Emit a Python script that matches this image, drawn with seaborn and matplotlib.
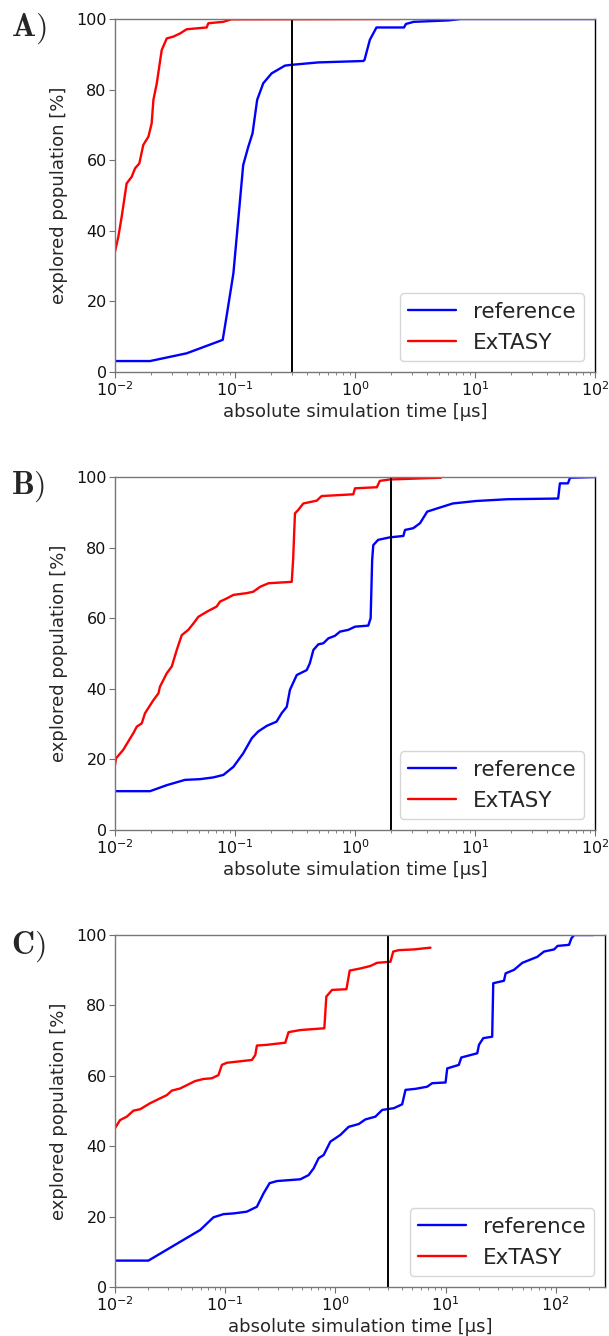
import numpy as np
import pandas as pd
import matplotlib
matplotlib.use('Agg')
import matplotlib.pyplot as plt
import seaborn as sns

# ---- panel A: cutoff at 0.3 us ----
a_ref_t = [0.01, 0.0196, 0.0396, 0.079, 0.085, 0.097, 0.107, 0.117, 0.129, 0.140,
           0.153, 0.172, 0.202, 0.261, 0.293, 0.494, 1.17, 1.20, 1.33, 1.51,
           2.56, 2.66, 3.09, 6.0, 7.6, 100]
a_ref_v = [3.1, 3.1, 5.3, 9.1, 15.7, 28.0, 44.0, 58.6, 63.8, 67.6,
           77.1, 81.8, 84.6, 86.8, 87.0, 87.7, 88.1, 88.4, 94.1, 97.6,
           97.6, 98.6, 99.2, 99.6, 100, 100]
a_ext_t = [0.01, 0.01066, 0.01137, 0.0125, 0.01377, 0.0147, 0.01595, 0.0172, 0.019, 0.0202,
           0.0209, 0.0223, 0.0245, 0.027, 0.0306, 0.0348, 0.0396, 0.058, 0.060, 0.080,
           0.093, 2.37]
a_ext_v = [34.1, 38.3, 44.0, 53.4, 55.3, 57.7, 59.1, 64.3, 66.7, 70.4,
           77.1, 81.8, 91.2, 94.5, 95.0, 95.9, 97.1, 97.6, 98.8, 99.2,
           99.9, 100]

# ---- panel B: cutoff at 2 us ----
b_ref_t = [0.01, 0.0196, 0.027, 0.0383, 0.051, 0.066, 0.08, 0.097, 0.117, 0.138,
           0.156, 0.184, 0.222, 0.245, 0.27, 0.287, 0.327, 0.396, 0.42, 0.45,
           0.495, 0.545, 0.6, 0.68, 0.75, 0.88, 1.0, 1.29, 1.35, 1.39,
           1.42, 1.56, 1.95, 2.53, 2.61, 3.06, 3.48, 4.0, 4.84, 6.53,
           10.2, 18.6, 49.3, 51, 59.5, 62, 100]
b_ref_v = [11.0, 11.0, 12.7, 14.2, 14.4, 14.9, 15.6, 17.9, 21.7, 26.0,
           27.9, 29.5, 30.7, 33.1, 34.9, 39.7, 43.9, 45.3, 47.2, 51.0,
           52.6, 52.9, 54.3, 55.0, 56.2, 56.7, 57.6, 57.9, 60.0, 76.5,
           80.7, 82.2, 82.9, 83.3, 85.0, 85.5, 86.9, 90.2, 91.1, 92.5,
           93.2, 93.7, 93.9, 98.2, 98.2, 99.8, 100]
b_ext_t = [0.01, 0.0102, 0.0117, 0.0142, 0.0152, 0.0167, 0.0178, 0.0209, 0.023, 0.0237,
           0.027, 0.0297, 0.0327, 0.036, 0.0408, 0.045, 0.0495, 0.058, 0.0703, 0.075,
           0.0853, 0.097, 0.125, 0.142, 0.162, 0.19, 0.297, 0.305, 0.316, 0.337,
           0.371, 0.48, 0.527, 0.968, 1.0, 1.52, 1.61, 1.95, 5.2]
b_ext_v = [18.4, 20.3, 22.7, 27.4, 29.3, 30.2, 33.1, 36.8, 38.7, 40.6,
           44.4, 46.3, 51.0, 55.2, 56.7, 58.5, 60.4, 61.8, 63.3, 64.7,
           65.6, 66.6, 67.1, 67.5, 68.9, 69.9, 70.3, 76.5, 89.7, 90.7,
           92.5, 93.3, 94.6, 95.1, 96.8, 97.1, 98.9, 99.3, 99.8]

# ---- panel C: cutoff at 3 us ----
c_ref_t = [0.01, 0.0201, 0.0593, 0.0783, 0.0966, 0.119, 0.157, 0.194, 0.223, 0.253,
           0.295, 0.481, 0.572, 0.635, 0.705, 0.783, 0.901, 1.11, 1.32, 1.63,
           1.87, 2.31, 2.66, 3.39, 4.04, 4.33, 5.34, 6.81, 7.56, 10.0,
           10.36, 13.2, 13.9, 19.4, 20.1, 22.0, 26.5, 27.1, 33.9, 35.1,
           41.8, 49.8, 68.1, 78.3, 96.6, 104, 132, 139, 147, 220]
c_ref_v = [7.5, 7.5, 16.2, 19.8, 20.7, 20.9, 21.4, 22.8, 26.6, 29.5,
           30.1, 30.6, 31.8, 33.7, 36.6, 37.5, 41.3, 43.2, 45.5, 46.3,
           47.6, 48.4, 50.3, 50.8, 51.9, 56.0, 56.3, 56.9, 57.9, 58.1,
           62.1, 63.1, 65.2, 66.4, 68.8, 70.7, 71.1, 86.3, 87.0, 89.1,
           90.1, 92.1, 93.8, 95.3, 95.9, 96.9, 97.2, 99.1, 100, 100]
c_ext_t = [0.01, 0.0111, 0.0128, 0.0147, 0.0169, 0.0208, 0.0257, 0.0295, 0.0328, 0.039,
           0.0533, 0.0635, 0.0757, 0.0869, 0.0933, 0.1036, 0.175, 0.1875, 0.194, 0.239,
           0.351, 0.376, 0.481, 0.794, 0.828, 0.933, 1.26, 1.35, 1.69, 2.08,
           2.39, 3.16, 3.35, 3.77, 5.16, 7.3]
c_ext_v = [45.1, 47.4, 48.4, 50.1, 50.5, 52.2, 53.6, 54.5, 55.8, 56.4,
           58.5, 59.1, 59.3, 60.2, 63.1, 63.7, 64.5, 65.9, 68.6, 68.8,
           69.4, 72.4, 73.0, 73.5, 82.5, 84.4, 84.6, 89.9, 90.5, 91.2,
           92.1, 92.4, 95.3, 95.7, 95.9, 96.4]

panel_labels = ['A)', 'B)', 'C)']
cutoffs = [0.3, 2.0, 3.0]
xmax = [100, 100, 280]
yticks = [0, 20, 40, 60, 80, 100]

sns.set_style('ticks')
plt.rcParams['font.family'] = ['DejaVu Sans']

W, H = 609, 1336
fig = plt.figure(figsize=(W / 100, H / 100), dpi=100)

# axes boxes in pixels: left, top, right, bottom
boxes = [(115, 19, 595, 372), (115, 477, 595, 830), (115, 935, 605, 1287)]
label_y = [29, 487, 947]

data = [(a_ref_t, a_ref_v, a_ext_t, a_ext_v),
        (b_ref_t, b_ref_v, b_ext_t, b_ext_v),
        (c_ref_t, c_ref_v, c_ext_t, c_ext_v)]

for i, (ref_t, ref_v, ext_t, ext_v) in enumerate(data):
    l, t, r, b = boxes[i]
    ax = fig.add_axes([l / W, 1 - b / H, (r - l) / W, (b - t) / H])
    ax.set_xscale('log')

    ref = pd.DataFrame({'t': ref_t, 'v': ref_v})
    ext = pd.DataFrame({'t': ext_t, 'v': ext_v})
    sns.lineplot(data=ref, x='t', y='v', color='#0000ff', lw=1.7, label='reference',
                 estimator=None, sort=False, ax=ax)
    sns.lineplot(data=ext, x='t', y='v', color='#ff0000', lw=1.7, label='ExTASY',
                 estimator=None, sort=False, ax=ax)
    ax.axvline(cutoffs[i], color='black', lw=1.4)

    ax.set_xlim(0.01, xmax[i])
    ax.set_ylim(0, 100)
    ax.set_yticks(yticks)
    ax.set_xlabel('absolute simulation time [µs]', fontsize=13, labelpad=3)
    ax.set_ylabel('explored population [%]', fontsize=13, labelpad=6)
    ax.tick_params(which='major', labelsize=11.5, length=4, width=0.8,
                   color='#707070', labelcolor='#111111', pad=2)
    ax.tick_params(which='minor', length=2.5, width=0.6, color='#707070')
    for s in ['left', 'top', 'bottom']:
        ax.spines[s].set_color('#777777')
        ax.spines[s].set_linewidth(1.0)
    ax.spines['right'].set_color('black')
    ax.spines['right'].set_linewidth(1.0)

    ax.legend(loc='lower right', fontsize=15.5, handlelength=2.2,
              handletextpad=0.8, frameon=True, framealpha=0.8, edgecolor='#cccccc')

    fig.text(11 / W, 1 - label_y[i] / H, r'$\mathbf{' + panel_labels[i] + '}$',
             fontsize=23, va='center', ha='left', math_fontfamily='cm')

fig.savefig('out.png', dpi=100)
